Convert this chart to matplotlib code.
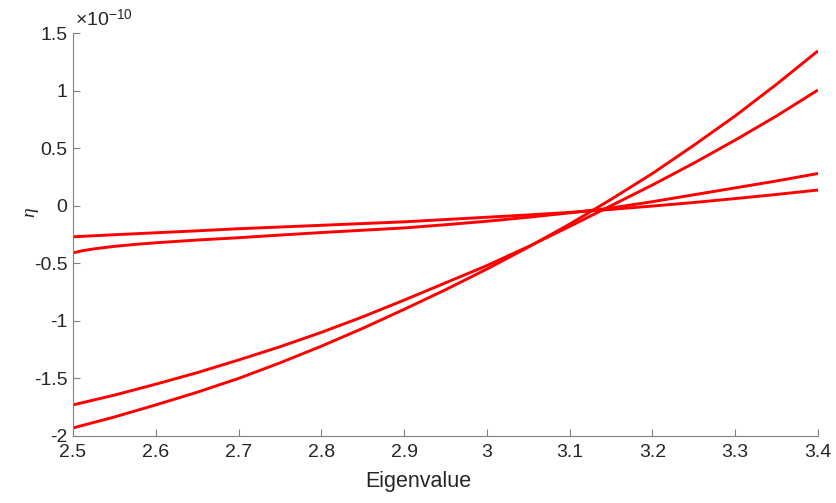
import matplotlib
matplotlib.use("Agg")
import matplotlib.pyplot as plt
from matplotlib.ticker import FixedLocator, FixedFormatter

plt.rcParams['font.family'] = ['Liberation Sans', 'DejaVu Sans']
plt.rcParams['mathtext.fontset'] = 'custom'
plt.rcParams['mathtext.rm'] = 'Liberation Sans'
plt.rcParams['mathtext.it'] = 'Liberation Serif:italic'

# values in units of 1e-10
x_ab = [2.5, 2.55, 2.6, 2.65, 2.7, 2.75, 2.8, 2.85, 2.9, 2.95, 3.0,
        3.05, 3.1, 3.15, 3.2, 3.25, 3.3, 3.35, 3.4]
eta_a = [-1.93, -1.835, -1.73, -1.62, -1.50, -1.365, -1.22, -1.065, -0.90, -0.73, -0.55,
         -0.36, -0.16, 0.055, 0.28, 0.525, 0.78, 1.055, 1.345]
eta_b = [-1.73, -1.645, -1.55, -1.45, -1.34, -1.225, -1.10, -0.965, -0.82, -0.67, -0.52,
         -0.355, -0.18, 0.0, 0.18, 0.37, 0.57, 0.78, 1.005]

x_c = [2.5, 2.51, 2.525, 2.55, 2.575, 2.6, 2.65, 2.7, 2.75, 2.8, 2.85, 2.9, 2.95, 3.0,
       3.05, 3.1, 3.15, 3.2, 3.25, 3.3, 3.35, 3.4]
eta_c = [-0.41, -0.393, -0.375, -0.353, -0.336, -0.322, -0.298, -0.278, -0.255, -0.233,
         -0.213, -0.193, -0.165, -0.135, -0.10, -0.062, -0.02, 0.035, 0.095, 0.155, 0.215, 0.28]

x_d = [2.5, 2.55, 2.6, 2.65, 2.7, 2.75, 2.8, 2.85, 2.9, 2.95, 3.0,
       3.05, 3.1, 3.15, 3.2, 3.25, 3.3, 3.35, 3.4]
eta_d = [-0.27, -0.252, -0.235, -0.218, -0.20, -0.185, -0.17, -0.155, -0.14, -0.12, -0.10,
         -0.08, -0.058, -0.032, -0.003, 0.028, 0.062, 0.098, 0.136]

xticks = [2.5, 2.6, 2.7, 2.8, 2.9, 3.0, 3.1, 3.2, 3.3, 3.4]
xtick_labels = ['2.5', '2.6', '2.7', '2.8', '2.9', '3', '3.1', '3.2', '3.3', '3.4']
yticks = [-2, -1.5, -1, -0.5, 0, 0.5, 1, 1.5]
ytick_labels = ['-2', '-1.5', '-1', '-0.5', '0', '0.5', '1', '1.5']

fig = plt.figure(figsize=(8.36, 5.03), dpi=100)
ax = fig.add_axes([73/836, 1-436/503, (818-73)/836, (436-33)/503])

for xs, ys in [(x_ab, eta_a), (x_ab, eta_b), (x_c, eta_c), (x_d, eta_d)]:
    ax.plot(xs, ys, color='#ff0000', lw=2.1, solid_capstyle='butt')

ax.set_xlim(2.5, 3.4)
ax.set_ylim(-2, 1.5)
ax.xaxis.set_major_locator(FixedLocator(xticks))
ax.xaxis.set_major_formatter(FixedFormatter(xtick_labels))
ax.yaxis.set_major_locator(FixedLocator(yticks))
ax.yaxis.set_major_formatter(FixedFormatter(ytick_labels))

for s in ['top', 'right']:
    ax.spines[s].set_visible(False)
for s in ['left', 'bottom']:
    ax.spines[s].set_color('#808080')
    ax.spines[s].set_linewidth(0.8)
ax.tick_params(direction='in', length=5, width=0.8, color='#808080',
               labelcolor='#262626', labelsize=14)
ax.tick_params(axis='x', pad=6)
ax.tick_params(axis='y', pad=4)

ax.set_xlabel('Eigenvalue', fontsize=15.5, color='#262626')
ax.xaxis.set_label_coords(0.4635, -0.114)
ax.xaxis.label.set_va('center')
ax.set_ylabel(r'$\eta$', fontsize=14, color='#262626')
ax.yaxis.set_label_coords(-0.054, 0.555)
ax.yaxis.label.set_va('center')

fig.text(75/836, 1-19/503, r'$\times10^{-10}$', fontsize=14, color='#262626',
         va='center', ha='left')

fig.savefig('out.png', dpi=100)
